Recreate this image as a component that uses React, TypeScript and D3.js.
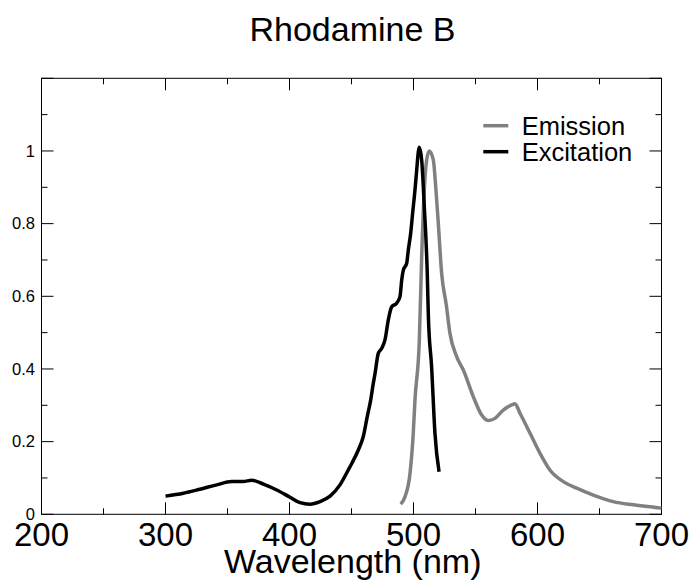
import React from "react";
import * as d3 from "d3";

const excitationNm = [300, 314.4, 327.8, 341.3, 353.4, 362.7, 369.5, 378.9, 389.7, 400.4, 408.5, 416.5, 424.6, 432.7, 440.7, 447.4, 450.2, 455.5, 459.5, 462.7, 465.5, 467.6, 469, 471.6, 474.4, 477, 479.7, 482.4, 486.4, 489.1, 490.5, 491.8, 494.5, 495.8, 497.7, 499.3, 501.2, 502.6, 503.9, 504.7, 506.6, 508.7, 511.1, 512, 514.6, 517.3, 520.6];
const excitationVal = [0.05, 0.058, 0.069, 0.081, 0.09, 0.09, 0.094, 0.083, 0.067, 0.047, 0.032, 0.028, 0.035, 0.05, 0.081, 0.122, 0.14, 0.177, 0.214, 0.269, 0.315, 0.361, 0.388, 0.443, 0.457, 0.48, 0.535, 0.571, 0.581, 0.599, 0.645, 0.672, 0.691, 0.727, 0.773, 0.829, 0.893, 0.948, 0.998, 1.01, 0.975, 0.847, 0.663, 0.544, 0.406, 0.223, 0.117];

const emissionNm = [489.7, 493.1, 497.2, 499.8, 501.2, 504.7, 506.6, 508.7, 510.6, 512.7, 516, 518.1, 520, 522.7, 526.5, 529.4, 534.8, 540.2, 548.2, 555, 560.3, 565.7, 572.4, 579.2, 581.9, 585.9, 594, 602, 610, 620.8, 631.6, 645, 661.1, 677.3, 700];
const emissionVal = [0.028, 0.048, 0.113, 0.223, 0.315, 0.48, 0.709, 0.893, 0.975, 1.0, 0.975, 0.893, 0.801, 0.663, 0.575, 0.498, 0.434, 0.397, 0.324, 0.273, 0.258, 0.264, 0.287, 0.301, 0.304, 0.278, 0.223, 0.168, 0.122, 0.09, 0.072, 0.053, 0.035, 0.026, 0.017];

const xMajor = [200, 300, 400, 500, 600, 700];
const xMinor = [250, 350, 450, 550, 650];
const yMajor = [0, 0.2, 0.4, 0.6, 0.8, 1.0, 1.2];
const yMinor = [0.1, 0.3, 0.5, 0.7, 0.9, 1.1];
const yLabels = ["0", "0.2", "0.4", "0.6", "0.8", "1"];

const FONT = "'Liberation Sans', Arial, Helvetica, sans-serif";

export default function App() {
  const x = d3.scaleLinear().domain([200, 700]).range([41.5, 661.5]);
  const y = d3.scaleLinear().domain([0, 1.2]).range([514.3, 78.3]);
  const line = d3
    .line<[number, number]>()
    .x((d) => x(d[0]))
    .y((d) => y(d[1]))
    .curve(d3.curveMonotoneX);
  const exc = excitationNm.map((n, i) => [n, excitationVal[i]] as [number, number]);
  const emi = emissionNm.map((n, i) => [n, emissionVal[i]] as [number, number]);
  const [x0, x1] = x.range();
  const [yb, yt] = y.range();
  const MAJ = 12;
  const MIN = 6;
  return (
    <svg width={696} height={582} style={{ position: "absolute", left: 0, top: 0, background: "#fff" }}>
      <rect x={0} y={0} width={696} height={582} fill="#fff" />
      <text x={352.5} y={41} textAnchor="middle" fontFamily={FONT} fontSize={34} fill="#000">
        Rhodamine B
      </text>
      <g stroke="#000" strokeWidth={1} fill="none">
        <rect x={x0} y={yt} width={x1 - x0} height={yb - yt} />
        {xMajor.map((v) => (
          <g key={"xm" + v}>
            <line x1={x(v)} x2={x(v)} y1={yb} y2={yb - MAJ} />
            <line x1={x(v)} x2={x(v)} y1={yt} y2={yt + MAJ} />
          </g>
        ))}
        {xMinor.map((v) => (
          <g key={"xn" + v}>
            <line x1={x(v)} x2={x(v)} y1={yb} y2={yb - MIN} />
            <line x1={x(v)} x2={x(v)} y1={yt} y2={yt + MIN} />
          </g>
        ))}
        {yMajor.map((v) => (
          <g key={"ym" + v}>
            <line x1={x0} x2={x0 + MAJ} y1={y(v)} y2={y(v)} />
            <line x1={x1} x2={x1 - MAJ} y1={y(v)} y2={y(v)} />
          </g>
        ))}
        {yMinor.map((v) => (
          <g key={"yn" + v}>
            <line x1={x0} x2={x0 + MIN} y1={y(v)} y2={y(v)} />
            <line x1={x1} x2={x1 - MIN} y1={y(v)} y2={y(v)} />
          </g>
        ))}
      </g>
      <path d={line(emi) || ""} fill="none" stroke="#808080" strokeWidth={3.5} strokeLinejoin="round" />
      <path d={line(exc) || ""} fill="none" stroke="#000" strokeWidth={3.5} strokeLinejoin="round" />
      {yLabels.map((t, i) => (
        <text key={"yl" + t} x={35} y={y(yMajor[i]) + 5.8} textAnchor="end" fontFamily={FONT} fontSize={16.5} fill="#000">
          {t}
        </text>
      ))}
      {xMajor.map((v) => (
        <text key={"xl" + v} x={x(v)} y={545.5} textAnchor="middle" fontFamily={FONT} fontSize={33} fill="#000">
          {v}
        </text>
      ))}
      <text x={352.7} y={573.3} textAnchor="middle" fontFamily={FONT} fontSize={34} fill="#000">
        Wavelength (nm)
      </text>
      <line x1={483.3} x2={508.3} y1={125.7} y2={125.7} stroke="#808080" strokeWidth={3.5} />
      <text x={521.7} y={135} fontFamily={FONT} fontSize={25.5} fill="#000">
        Emission
      </text>
      <line x1={483.3} x2={508.3} y1={151.7} y2={151.7} stroke="#000" strokeWidth={3.5} />
      <text x={521.7} y={161} fontFamily={FONT} fontSize={25.5} fill="#000">
        Excitation
      </text>
    </svg>
  );
}
